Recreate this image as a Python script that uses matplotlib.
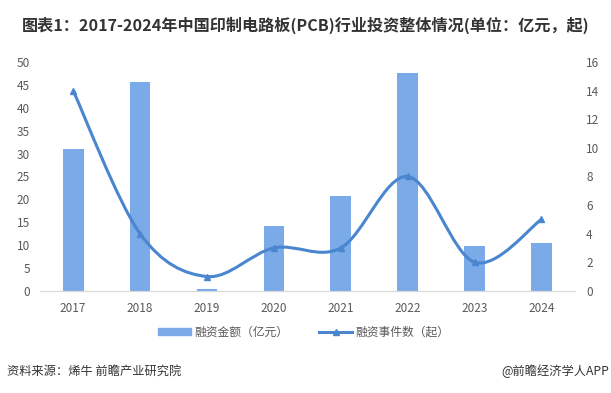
import matplotlib.pyplot as plt
from matplotlib.path import Path
from matplotlib.patches import PathPatch
from matplotlib.lines import Line2D
from matplotlib.patches import Patch

plt.rcParams['font.family'] = ['Noto Sans CJK SC', 'DejaVu Sans']

years = ['2017', '2018', '2019', '2020', '2021', '2022', '2023', '2024']
amount = [30.9, 45.7, 0.3, 14.1, 20.7, 47.6, 9.8, 10.4]
events = [14, 4, 1, 3, 3, 8, 2, 5]

bar_color = '#7aaae8'
line_color = '#4a86d0'
tick_color = '#595959'


# Excel-like smoothed line: Catmull-Rom segments turned into cubic bezier curves
def smooth_path(xs, ys, k=1 / 6):
    verts = [(xs[0], ys[0])]
    codes = [Path.MOVETO]
    n = len(xs)
    for i in range(n - 1):
        x0, y0 = (xs[i - 1], ys[i - 1]) if i > 0 else (xs[i], ys[i])
        x1, y1 = xs[i], ys[i]
        x2, y2 = xs[i + 1], ys[i + 1]
        x3, y3 = (xs[i + 2], ys[i + 2]) if i + 2 < n else (x2, y2)
        c1 = (x1 + (x2 - x0) * k, y1 + (y2 - y0) * k)
        c2 = (x2 - (x3 - x1) * k, y2 - (y3 - y1) * k)
        verts += [c1, c2, (x2, y2)]
        codes += [Path.CURVE4] * 3
    return Path(verts, codes)


fig = plt.figure(figsize=(6.11, 3.93), dpi=100)
ax = fig.add_axes([0.065, 0.26, 0.876, 0.582])
ax2 = ax.twinx()

x = list(range(len(years)))
ax.bar(x, amount, width=0.31, color=bar_color, zorder=2)
ax.set_xlim(-0.5, len(years) - 0.5)
ax.set_ylim(0, 50)
ax.set_yticks(range(0, 51, 5))
ax.set_xticks(x)
ax.set_xticklabels(years)

ax2.set_ylim(0, 16)
ax2.set_yticks(range(0, 17, 2))
ax2.add_patch(PathPatch(smooth_path(x, events), facecolor='none',
                        edgecolor=line_color, linewidth=2.2, zorder=3))
ax2.plot(x, events, linestyle='none', marker='^', markersize=5,
         color=line_color, zorder=4)

for a in (ax, ax2):
    for s in ('top', 'left', 'right'):
        a.spines[s].set_visible(False)
    a.spines['bottom'].set_color('#d9d9d9')
    a.tick_params(length=0, labelsize=8.5, colors=tick_color)
ax.tick_params(axis='x', pad=8)
ax.tick_params(axis='y', pad=7)
ax2.tick_params(axis='y', pad=8)

handles = [Patch(color=bar_color),
           Line2D([0], [0], color=line_color, linewidth=2.2, marker='^', markersize=4)]
fig.legend(handles, ['融资金额（亿元）', '融资事件数（起）'], loc='center',
           bbox_to_anchor=(0.497, 0.155), ncol=2, frameon=False, fontsize=8.5,
           labelcolor=tick_color, handlelength=2.8, columnspacing=2.6,
           handleheight=0.6, handletextpad=0.3)

fig.text(0.5, 0.935, '图表1：2017-2024年中国印制电路板(PCB)行业投资整体情况(单位：亿元，起)',
         ha='center', va='center', fontsize=11.6, fontweight='bold', color='#333333')
fig.text(0.012, 0.055, '资料来源：烯牛 前瞻产业研究院', ha='left', va='center',
         fontsize=8.8, color='#333333')
fig.text(0.997, 0.055, '@前瞻经济学人APP', ha='right', va='center',
         fontsize=8.8, color='#333333')

fig.savefig('out.png', dpi=100)
